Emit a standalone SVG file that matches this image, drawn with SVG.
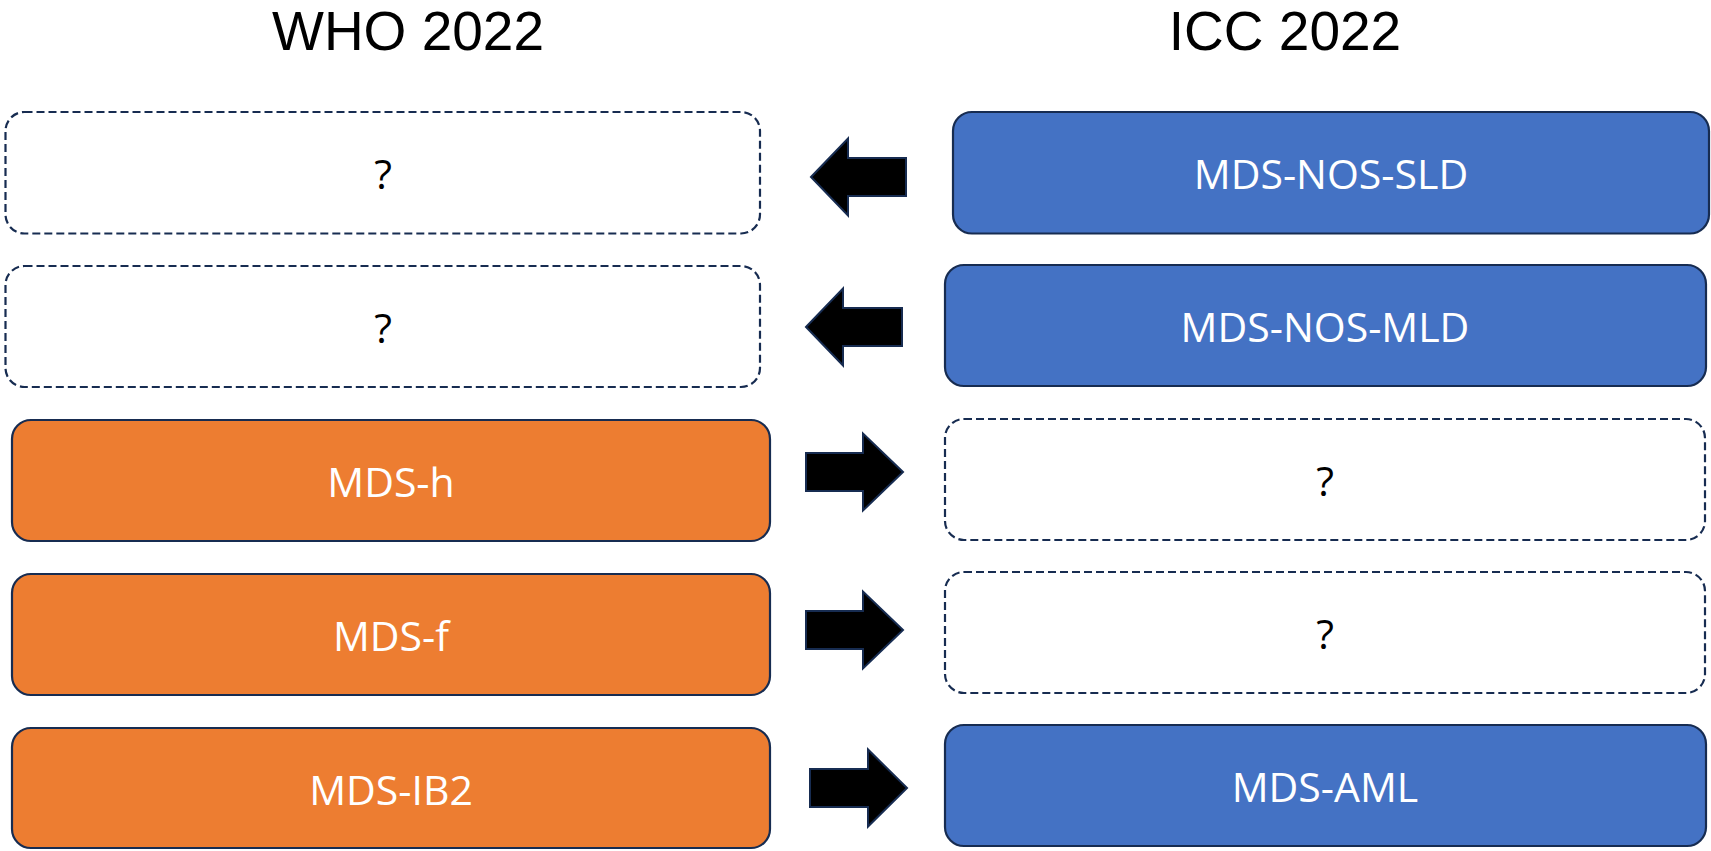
<svg xmlns="http://www.w3.org/2000/svg" width="1711" height="851" viewBox="0 0 1711 851">
<style>
.box{stroke:#172c51;stroke-width:2.2}
.dash{fill:#ffffff;stroke:#172c51;stroke-width:2.2;stroke-dasharray:8 4}
.orange{fill:#ed7d31}
.blue{fill:#4472c4}
.arrow{fill:#000000;stroke:#172c51;stroke-width:2}
.lbl{font-family:"Open Sans","Liberation Sans",sans-serif;font-size:41px;text-anchor:middle;fill:#ffffff}
.q{font-family:"Open Sans","Liberation Sans",sans-serif;font-size:41px;text-anchor:middle;fill:#000000}
.hdr{font-family:"Liberation Sans",Arial,sans-serif;font-size:55px;text-anchor:middle;fill:#000000}
</style>
<rect width="1711" height="851" fill="#ffffff"/>
<g id="headers">
<text class="hdr" x="408" y="50">WHO 2022</text>
<text class="hdr" x="1285" y="50">ICC 2022</text>
</g>
<g id="who-q1"><rect class="dash" x="5.5" y="112" width="754.5" height="121.5" rx="19"/><text class="q" x="383" y="189">?</text></g>
<g id="who-q2"><rect class="dash" x="5.5" y="266" width="754.5" height="121" rx="19"/><text class="q" x="383" y="343">?</text></g>
<g id="who-mds-h"><rect class="box orange" x="12" y="420" width="758" height="121" rx="19"/><text class="lbl" x="391" y="497">MDS-h</text></g>
<g id="who-mds-f"><rect class="box orange" x="12" y="574" width="758" height="121" rx="19"/><text class="lbl" x="391" y="651">MDS-f</text></g>
<g id="who-mds-ib2"><rect class="box orange" x="12" y="728" width="758" height="120" rx="19"/><text class="lbl" x="391" y="805">MDS-IB2</text></g>
<g id="icc-sld"><rect class="box blue" x="953" y="112" width="756" height="121.5" rx="19"/><text class="lbl" x="1331" y="189">MDS-NOS-SLD</text></g>
<g id="icc-mld"><rect class="box blue" x="945" y="265" width="761" height="121" rx="19"/><text class="lbl" x="1325" y="342">MDS-NOS-MLD</text></g>
<g id="icc-q3"><rect class="dash" x="945" y="419" width="760" height="121" rx="19"/><text class="q" x="1325" y="496">?</text></g>
<g id="icc-q4"><rect class="dash" x="945" y="572" width="760" height="121" rx="19"/><text class="q" x="1325" y="649">?</text></g>
<g id="icc-aml"><rect class="box blue" x="945" y="725" width="761" height="121" rx="19"/><text class="lbl" x="1325" y="802">MDS-AML</text></g>
<g id="connectors">
<polygon class="arrow" points="811,177 848,138.5 848,158 906,158 906,196 848,196 848,215.5"/>
<polygon class="arrow" points="806,327 843,288.5 843,308 902,308 902,346 843,346 843,365.5"/>
<polygon class="arrow" points="903,472 863,433.5 863,453 806,453 806,491 863,491 863,510.5"/>
<polygon class="arrow" points="903,630 863,591.5 863,611 806,611 806,649 863,649 863,668.5"/>
<polygon class="arrow" points="907,788 868,749.5 868,769 810,769 810,807 868,807 868,826.5"/>
</g>
</svg>
